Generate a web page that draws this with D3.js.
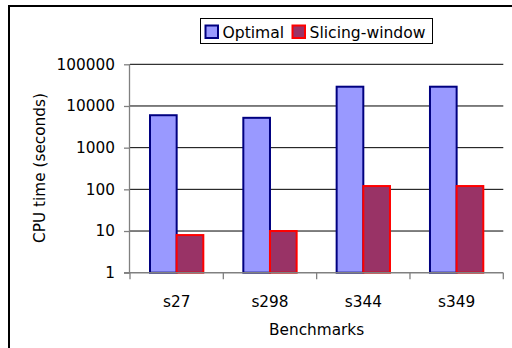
<!DOCTYPE html>
<html><head><meta charset="utf-8">
<script src="https://cdn.jsdelivr.net/npm/d3@7"></script>
<style>body{margin:0;background:#fff}svg{display:block}text{font-family:"DejaVu Sans",Verdana,sans-serif;fill:#000}</style>
</head><body>
<svg id="c" width="512" height="348"></svg>
<script>
const categories = ["s27", "s298", "s344", "s349"];
const seriesNames = ["Optimal", "Slicing-window"];
const optimal = [6000, 5200, 29000, 29000];
const slicing = [8, 10, 120, 120];
const yTicks = [1, 10, 100, 1000, 10000, 100000];
const yTickLabels = ["1", "10", "100", "1000", "10000", "100000"];

const fills = ["#9999FF", "#993366"];
const strokes = ["#000080", "#FF0000"];
const fs = 15.3;

const svg = d3.select("#c");
// outer frame
svg.append("path").attr("d", "M9,348V6H512").attr("fill", "none").attr("stroke", "#000").attr("stroke-width", 2);

const L = 130, R = 503.3, T = 64.3, B = 272.7;
const x = d3.scaleBand().domain(categories).range([L, R]).paddingInner(0).paddingOuter(0);
const y = d3.scaleLog().domain([1, 100000]).range([B, T]);
const xs = d3.scaleBand().domain(seriesNames).range([0, x.bandwidth()]).paddingInner(0).paddingOuter(0.75);

// gridlines
svg.append("g").selectAll("line").data(yTicks.slice(1)).join("line")
  .attr("x1", L).attr("x2", R).attr("y1", d => y(d)).attr("y2", d => y(d))
  .attr("stroke", "#000").attr("stroke-width", 1);

// bars
const data = categories.map((c, i) => ({c, vals: [optimal[i], slicing[i]]}));
const g = svg.append("g");
data.forEach(d => {
  d.vals.forEach((v, j) => {
    g.append("rect")
      .attr("x", x(d.c) + xs(seriesNames[j]))
      .attr("y", y(v))
      .attr("width", xs.bandwidth())
      .attr("height", B - y(v))
      .attr("fill", fills[j]).attr("stroke", strokes[j]).attr("stroke-width", 2);
  });
});

// y axis
const yAxis = d3.axisLeft(y).tickValues(yTicks).tickFormat((d, i) => yTickLabels[i]).tickSize(6).tickPadding(9);
const ya = svg.append("g").attr("transform", `translate(${L},0)`).call(yAxis);
ya.select(".domain").attr("stroke", "#808080").attr("stroke-width", 1.3).attr("d", `M-0.5,${T}V${B}`);
ya.selectAll(".tick line").attr("stroke", "#808080").attr("stroke-width", 1.3);
ya.selectAll(".tick text").attr("font-size", fs).attr("font-family", '"DejaVu Sans",Verdana,sans-serif').attr("fill", "#000");

// x axis
const xa = svg.append("g").attr("transform", `translate(0,${B})`);
xa.append("line").attr("x1", L - 6).attr("x2", R).attr("y1", 0).attr("y2", 0).attr("stroke", "#808080").attr("stroke-width", 1.5);
const bounds = categories.map(c => x(c)).concat([R]);
xa.selectAll("line.t").data(bounds).join("line").attr("class", "t")
  .attr("x1", d => d).attr("x2", d => d).attr("y1", 0).attr("y2", 6.5)
  .attr("stroke", "#808080").attr("stroke-width", 1.3);
xa.selectAll("text").data(categories).join("text")
  .attr("x", d => x(d) + x.bandwidth() / 2).attr("y", 34).attr("text-anchor", "middle")
  .attr("font-size", fs).text(d => d);

// axis titles
svg.append("text").attr("x", (L + R) / 2).attr("y", 335).attr("text-anchor", "middle").attr("font-size", fs).text("Benchmarks");
svg.append("text").attr("transform", `translate(45,168) rotate(-90)`).attr("text-anchor", "middle").attr("font-size", fs).text("CPU time (seconds)");

// legend
const lg = svg.append("g");
lg.append("rect").attr("x", 200.5).attr("y", 18.5).attr("width", 232).attr("height", 25).attr("fill", "#fff").attr("stroke", "#000").attr("stroke-width", 1);
const lx = [205.5, 292.5];
seriesNames.forEach((n, j) => {
  lg.append("rect").attr("x", lx[j]).attr("y", 25.5).attr("width", 12.5).attr("height", 12.5)
    .attr("fill", fills[j]).attr("stroke", strokes[j]).attr("stroke-width", 2);
  lg.append("text").attr("x", lx[j] + 17).attr("y", 37.5).attr("font-size", fs + 0.3).text(n);
});
</script>
</body></html>
